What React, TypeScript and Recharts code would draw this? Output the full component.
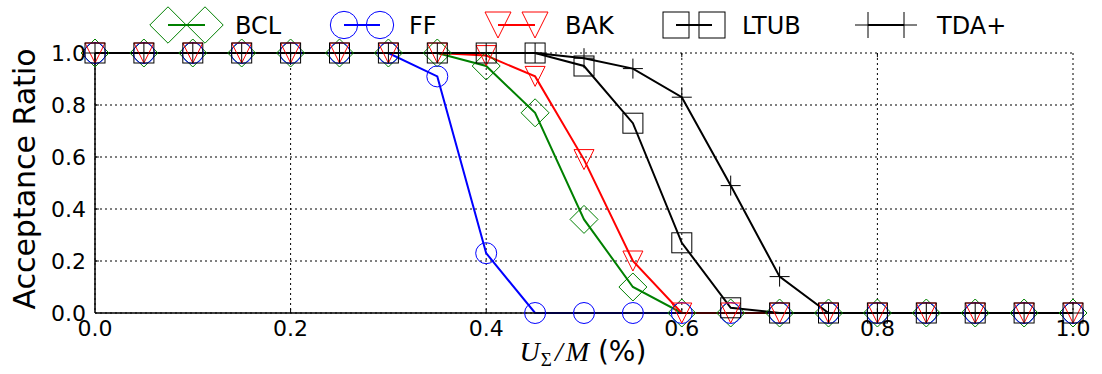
import React from "react";
import {
  LineChart,
  Line,
  XAxis,
  YAxis,
  CartesianGrid,
  ReferenceLine,
} from "recharts";

// utilisation points (x axis)
const utilisation = [
  0.0, 0.05, 0.1, 0.15, 0.2, 0.25, 0.3, 0.35, 0.4, 0.45, 0.5, 0.55, 0.6, 0.65,
  0.7, 0.75, 0.8, 0.85, 0.9, 0.95, 1.0,
];

const bcl = [1, 1, 1, 1, 1, 1, 1, 1, 0.95, 0.77, 0.36, 0.1, 0, 0, 0, 0, 0, 0, 0, 0, 0];
const ff = [1, 1, 1, 1, 1, 1, 1, 0.91, 0.23, 0, 0, 0, 0, 0, 0, 0, 0, 0, 0, 0, 0];
const bak = [1, 1, 1, 1, 1, 1, 1, 1, 0.99, 0.91, 0.59, 0.2, 0, 0, 0, 0, 0, 0, 0, 0, 0];
const ltub = [1, 1, 1, 1, 1, 1, 1, 1, 1, 1, 0.95, 0.73, 0.27, 0.02, 0, 0, 0, 0, 0, 0, 0];
const tda = [1, 1, 1, 1, 1, 1, 1, 1, 1, 1, 0.98, 0.94, 0.83, 0.49, 0.14, 0, 0, 0, 0, 0, 0];

const xTicks = [0, 0.2, 0.4, 0.6, 0.8, 1.0];
const yTicks = [0, 0.2, 0.4, 0.6, 0.8, 1.0];

const data = utilisation.map((u, i) => ({
  u,
  bcl: bcl[i],
  ff: ff[i],
  bak: bak[i],
  ltub: ltub[i],
  tda: tda[i],
}));

type Shape = "diamond" | "circle" | "tri" | "square" | "plus";

const series: { key: string; label: string; color: string; shape: Shape }[] = [
  { key: "bcl", label: "BCL", color: "#008000", shape: "diamond" },
  { key: "ff", label: "FF", color: "#0000ff", shape: "circle" },
  { key: "bak", label: "BAK", color: "#ff0000", shape: "tri" },
  { key: "ltub", label: "LTUB", color: "#000000", shape: "square" },
  { key: "tda", label: "TDA+", color: "#000000", shape: "plus" },
];

const FONT = "'DejaVu Sans', sans-serif";
const SERIF = "'Liberation Serif', serif";

function Marker({ shape, cx, cy, s, color }: { shape: Shape; cx: number; cy: number; s: number; color: string }) {
  const h = 10 * s;
  const common = { fill: "none", stroke: color, strokeWidth: 1 };
  if (shape === "diamond") {
    const d = 14 * s;
    return <polygon points={`${cx},${cy - d} ${cx + d},${cy} ${cx},${cy + d} ${cx - d},${cy}`} {...common} />;
  }
  if (shape === "circle") return <circle cx={cx} cy={cy} r={10.5 * s} {...common} />;
  if (shape === "tri")
    return <polygon points={`${cx - h},${cy - h} ${cx + h},${cy - h} ${cx},${cy + h}`} {...common} />;
  if (shape === "square") return <rect x={cx - h} y={cy - h} width={2 * h} height={2 * h} {...common} />;
  return (
    <g {...common}>
      <line x1={cx - h} y1={cy} x2={cx + h} y2={cy} />
      <line x1={cx} y1={cy - h} x2={cx} y2={cy + h} />
    </g>
  );
}

// legend entries: [first marker x, second marker x, text x]
const legendPos = [
  [168, 205, 235],
  [344, 380, 409],
  [498, 535, 565],
  [676, 712, 742],
  [868, 904, 937],
];

export default function App() {
  return (
    <div style={{ position: "absolute", left: 0, top: 0, width: 1102, height: 374, background: "#fff" }}>
      <LineChart width={1102} height={374} data={data} margin={{ top: 53, right: 29, bottom: 0, left: 0 }}>
        <CartesianGrid stroke="#000" strokeDasharray="2 3" strokeWidth={1} />
        <XAxis
          dataKey="u"
          type="number"
          domain={[0, 1]}
          ticks={xTicks}
          tickFormatter={(v: number) => v.toFixed(1)}
          height={61}
          tickSize={0}
          tickMargin={7}
          axisLine={{ stroke: "#000", strokeWidth: 1.5 }}
          tick={{ fill: "#000", fontSize: 22, fontFamily: FONT }}
        />
        <XAxis xAxisId="top" dataKey="u" type="number" domain={[0, 1]} orientation="top" height={0} tick={false} tickLine={false} axisLine={{ stroke: "#000", strokeWidth: 1.5 }} />
        <YAxis
          domain={[0, 1]}
          ticks={yTicks}
          tickFormatter={(v: number) => v.toFixed(1)}
          width={95}
          tickSize={0}
          tickMargin={9}
          axisLine={{ stroke: "#000", strokeWidth: 1.5 }}
          tick={{ fill: "#000", fontSize: 22, fontFamily: FONT }}
        />
        <YAxis yAxisId="right" orientation="right" domain={[0, 1]} width={0} tick={false} tickLine={false} axisLine={{ stroke: "#000", strokeWidth: 1.5 }} />
        {xTicks.slice(1, -1).map((t) => (
          <ReferenceLine key={"xb" + t} segment={[{ x: t, y: 0 }, { x: t, y: 0.016 }]} stroke="#000" />
        ))}
        {xTicks.slice(1, -1).map((t) => (
          <ReferenceLine key={"xt" + t} segment={[{ x: t, y: 1 }, { x: t, y: 0.984 }]} stroke="#000" />
        ))}
        {yTicks.slice(1, -1).map((t) => (
          <ReferenceLine key={"yl" + t} segment={[{ x: 0, y: t }, { x: 0.004, y: t }]} stroke="#000" />
        ))}
        {series.map((s) => (
          <Line
            key={s.key}
            dataKey={s.key}
            stroke={s.color}
            strokeWidth={2}
            isAnimationActive={false}
            dot={(p: any) => <Marker key={s.key + p.index} shape={s.shape} cx={p.cx} cy={p.cy} s={1} color={s.color} />}
            activeDot={false}
          />
        ))}
      </LineChart>
      <svg width={1102} height={374} style={{ position: "absolute", left: 0, top: 0, pointerEvents: "none" }}>
        {series.map((s, i) => {
          const [a, b, t] = legendPos[i];
          return (
            <g key={s.key}>
              <line x1={a} y1={25} x2={b} y2={25} stroke={s.color} strokeWidth={2} />
              <Marker shape={s.shape} cx={a} cy={25} s={1.3} color={s.color} />
              <Marker shape={s.shape} cx={b} cy={25} s={1.3} color={s.color} />
              <text x={t} y={34} fontSize={24} fontFamily={FONT} fill="#000">
                {s.label}
              </text>
            </g>
          );
        })}
        <text
          transform="translate(35,179) rotate(-90)"
          textAnchor="middle"
          fontSize={30}
          fontFamily={FONT}
          fill="#000"
        >
          Acceptance Ratio
        </text>
        <text x={583} y={361} textAnchor="middle" fill="#000">
          <tspan fontFamily={SERIF} fontStyle="italic" fontSize={28}>U</tspan>
          <tspan fontFamily={SERIF} fontSize={19} dy={5} dx={1}>Σ</tspan>
          <tspan fontFamily={SERIF} fontStyle="italic" fontSize={28} dy={-5} dx={3}>/</tspan>
          <tspan fontFamily={SERIF} fontStyle="italic" fontSize={28} dx={3}>M</tspan>
          <tspan fontFamily={FONT} fontSize={28}> (%)</tspan>
        </text>
      </svg>
    </div>
  );
}
